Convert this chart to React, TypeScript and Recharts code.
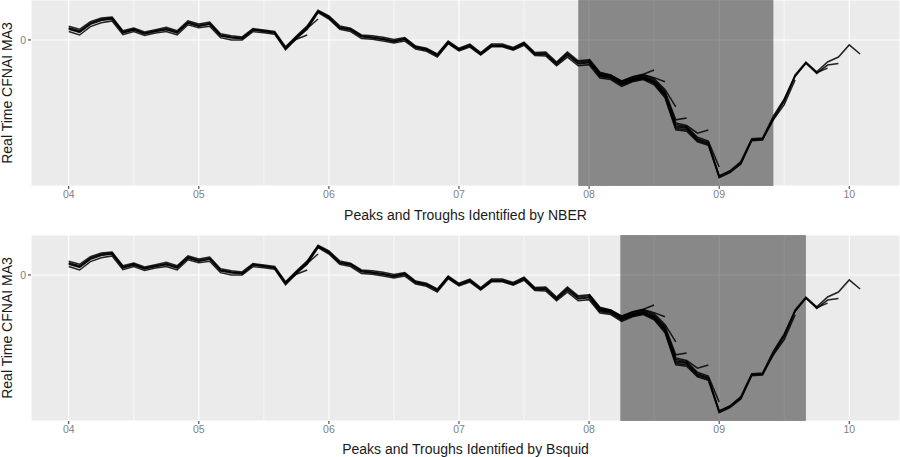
import React from 'react';
import {
  LineChart,
  Line,
  XAxis,
  YAxis,
  CartesianGrid,
  ReferenceArea,
} from 'recharts';

// monthly index 0 = Jan 2004
const MONTH_COUNT = 74;
const yearTicks = [2004, 2005, 2006, 2007, 2008, 2009, 2010];
const minorYears = [2004.5, 2005.5, 2006.5, 2007.5, 2008.5, 2009.5];

// vintages of the real time CFNAI MA3 (start = first month index)
const vintageA = [
  0.32, 0.24, 0.45, 0.55, 0.58, 0.21, 0.29, 0.18, 0.24, 0.30, 0.21, 0.47,
  0.39, 0.44, 0.13, 0.08, 0.05, 0.28, 0.24, 0.20, -0.21, 0.08, 0.34, 0.76,
  0.61, 0.34, 0.29, 0.11, 0.08, 0.04, -0.02, 0.04, -0.18, -0.24, -0.39, -0.05,
  -0.24, -0.13, -0.35, -0.13, -0.13, -0.22, -0.08, -0.35, -0.35, -0.61, -0.35, -0.58,
  -0.55, -0.92, -0.97, -1.16, -1.05, -1.00, -1.13, -1.45, -2.29, -2.32, -2.63, -2.71,
  -3.60, -3.47, -3.24, -2.63, -2.61, -2.05, -1.58, -0.92, -0.58, -0.84, -0.58, -0.45,
  -0.13, -0.37,
];
const vintageB = [
  0.28, 0.20, 0.41, 0.51, 0.55, 0.18, 0.26, 0.16, 0.22, 0.27, 0.18, 0.44,
  0.36, 0.41, 0.10, 0.05, 0.03, 0.26, 0.22, 0.18, -0.23, 0.06, 0.31, 0.74,
  0.58, 0.31, 0.26, 0.08, 0.05, 0.01, -0.05, 0.01, -0.21, -0.27, -0.42, -0.08,
  -0.27, -0.16, -0.38, -0.16, -0.16, -0.25, -0.11, -0.38, -0.39, -0.65, -0.40, -0.63,
  -0.60, -0.97, -1.01, -1.19, -1.08, -1.02, -1.15, -1.48, -2.33, -2.36, -2.66, -2.74,
  -3.62, -3.49, -3.26, -2.65, -2.63, -2.08, -1.62, -0.96, -0.60, -0.88, -0.66, -0.62,
];
const vintageC = [
  0.22, 0.13, 0.35, 0.45, 0.50, 0.14, 0.22, 0.12, 0.18, 0.22, 0.13, 0.40,
  0.32, 0.36, 0.06, 0.00, 0.00, 0.22, 0.19, 0.15, -0.26, 0.03, 0.28, 0.72,
  0.55, 0.28, 0.22, 0.04, 0.02, -0.03, -0.08, -0.03, -0.24, -0.30, -0.45, -0.10,
  -0.29, -0.19, -0.40, -0.18, -0.18, -0.27, -0.14, -0.41, -0.42, -0.68, -0.45, -0.68,
  -0.65, -1.00, -1.04, -1.22, -1.10, -1.04, -1.18, -1.52, -2.36, -2.40, -2.68, -2.77,
  -3.58, -3.44, -3.20, -2.60, -2.58, -2.00, -1.55, -0.95, -0.62, -0.86, -0.74,
];
const vintageD = [
  0.36, 0.28, 0.48, 0.58, 0.60, 0.24, 0.31, 0.21, 0.27, 0.33, 0.24, 0.50,
  0.42, 0.47, 0.16, 0.11, 0.08, 0.30, 0.26, 0.22, -0.18, 0.10, 0.37, 0.78,
  0.63, 0.37, 0.31, 0.13, 0.11, 0.07, 0.01, 0.06, -0.16, -0.22, -0.37, -0.03,
  -0.22, -0.11, -0.33, -0.11, -0.11, -0.20, -0.06, -0.33, -0.32, -0.58, -0.32, -0.55,
  -0.52, -0.90, -0.95, -1.14, -1.03, -0.98, -1.11, -1.43, -2.26, -2.30, -2.60, -2.69,
  -3.57, -3.45, -3.22, -2.62, -2.60, -2.10, -1.70, -1.05,
];
const vintageE = [
  0.30, 0.22, 0.43, 0.53, 0.56, 0.20, 0.27, 0.17, 0.23, 0.28, 0.20, 0.45,
  0.37, 0.42, 0.12, 0.07, 0.04, 0.27, 0.23, 0.19, -0.22, 0.07, 0.32, 0.75,
  0.59, 0.32, 0.27, 0.09, 0.06, 0.02, -0.04, 0.02, -0.20, -0.26, -0.41, -0.07,
  -0.26, -0.15, -0.37, -0.15, -0.15, -0.24, -0.10, -0.37, -0.37, -0.63, -0.38, -0.61,
  -0.58, -0.95, -0.99, -1.17, -1.06, -1.00, -1.12, -1.42, -2.22, -2.28, -2.56, -2.66,
  -3.34,
];
const vintageF = [-0.56, -0.93, -0.98, -1.15, -1.04, -0.97, -1.09, -1.38, -2.18, -2.25, -2.45, -2.37];
const vintageG = [-0.55, -0.90, -0.96, -1.13, -1.02, -0.95, -1.06, -1.35, -2.10, -2.05];
const vintageH = [-0.53, -0.88, -0.94, -1.10, -0.99, -0.92, -1.02, -1.30, -1.76];
const vintageL = [-0.52, -0.87, -0.93, -1.09, -0.98, -0.91, -0.99, -1.10];
const vintageI = [-0.50, -0.85, -0.92, -1.08, -0.97, -0.90, -0.79];
const vintageJ = [-0.21, 0.02, 0.13];
const vintageK = [-0.20, 0.06, 0.30, 0.55];

const vintages = [
  { key: 'a', start: 0, values: vintageA },
  { key: 'b', start: 0, values: vintageB },
  { key: 'c', start: 0, values: vintageC },
  { key: 'd', start: 0, values: vintageD },
  { key: 'e', start: 0, values: vintageE },
  { key: 'f', start: 48, values: vintageF },
  { key: 'g', start: 48, values: vintageG },
  { key: 'h', start: 48, values: vintageH },
  { key: 'l', start: 48, values: vintageL },
  { key: 'i', start: 48, values: vintageI },
  { key: 'j', start: 20, values: vintageJ },
  { key: 'k', start: 20, values: vintageK },
];

// shaded recession spans (decimal years)
const nberSpan = [2007 + 11 / 12, 2009 + 5 / 12];
const bsquidSpan = [2008.24, 2009 + 8 / 12];

const rows = Array.from({ length: MONTH_COUNT }, (_, i) => {
  const r: any = { t: 2004 + i / 12 };
  vintages.forEach((v) => {
    const k = i - v.start;
    if (k >= 0 && k < v.values.length) r[v.key] = v.values[k];
  });
  return r;
});

const X0 = 2003.71;
const X1 = 2010.39;
const W = 900;
const Y_W = 31;
const FONT = '"Liberation Sans", Arial, Helvetica, sans-serif';

function Panel({ span, title, height, top, axisH, titleOffset }: any) {
  const plotW = W - Y_W;
  const plotH = height - top - axisH;
  const minorPts = minorYears.map((v) => Y_W + ((v - X0) / (X1 - X0)) * plotW);
  return (
    <LineChart
      width={W}
      height={height}
      data={rows}
      margin={{ top, right: 0, left: 0, bottom: 0 }}
      style={{ fontFamily: FONT }}
    >
      <CartesianGrid
        horizontal={false}
        verticalPoints={minorPts}
        stroke="#ffffff"
        strokeWidth={0.6}
        fill="#ebebeb"
        fillOpacity={1}
      />
      <CartesianGrid stroke="#ffffff" strokeWidth={1.1} />
      <XAxis
        dataKey="t"
        type="number"
        domain={[X0, X1]}
        allowDataOverflow
        ticks={yearTicks}
        tickFormatter={(v) => String(v).slice(2)}
        height={axisH}
        axisLine={false}
        tickSize={3}
        tickLine={{ stroke: '#333' }}
        tick={{ fill: '#7f7f7f', stroke: 'none', fontSize: 10.5 }}
        label={{ value: title, position: 'insideBottom', offset: titleOffset, fill: '#1a1a1a', fontSize: 14 }}
      />
      <YAxis
        type="number"
        domain={[-3.84, 1.05]}
        allowDataOverflow
        ticks={[0]}
        width={Y_W}
        axisLine={false}
        tickSize={3}
        tickLine={{ stroke: '#333' }}
        tick={{ fill: '#7f7f7f', stroke: 'none', fontSize: 10.5 }}
        label={{
          content: () => (
            <text
              x={7}
              y={top + plotH / 2}
              transform={`rotate(-90 7 ${top + plotH / 2})`}
              textAnchor="middle"
              dominantBaseline="central"
              fill="#1a1a1a"
              fontSize={14}
              fontFamily={FONT}
            >
              Real Time CFNAI MA3
            </text>
          ),
        }}
      />
      <ReferenceArea x1={span[0]} x2={span[1]} fill="#000" fillOpacity={0.42} stroke="none" />
      {vintages.map((v) => (
        <Line
          key={v.key}
          dataKey={v.key}
          stroke="#000"
          strokeOpacity={0.85}
          strokeWidth={1.5}
          dot={false}
          activeDot={false}
          isAnimationActive={false}
        />
      ))}
    </LineChart>
  );
}

export default function App() {
  return (
    <div style={{ width: 900, height: 457, background: '#fff' }}>
      <style>{`body{margin:0}`}</style>
      <Panel span={nberSpan} title="Peaks and Troughs Identified by NBER" height={228} top={0} axisH={42} titleOffset={8} />
      <Panel span={bsquidSpan} title="Peaks and Troughs Identified by Bsquid" height={229} top={7} axisH={36} titleOffset={3} />
    </div>
  );
}
